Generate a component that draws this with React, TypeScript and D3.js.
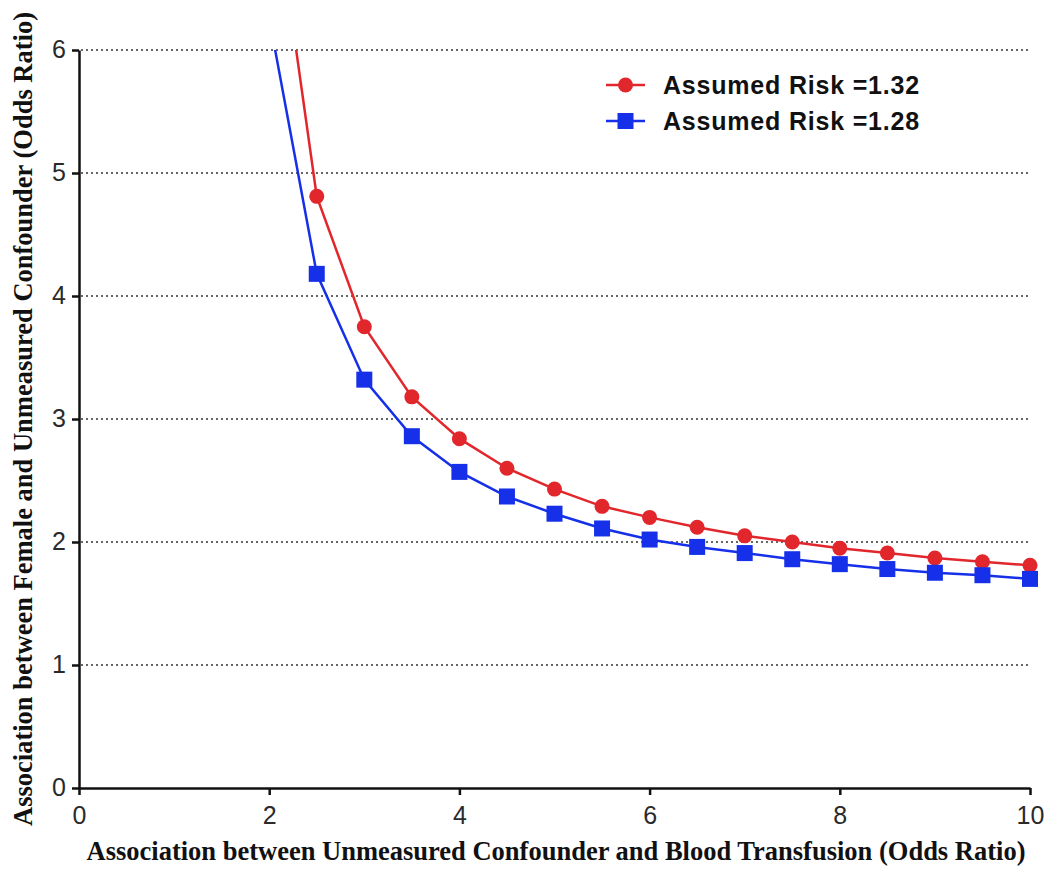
import React, { useEffect, useRef } from "react";
import * as d3 from "d3";

// x values (odds ratio, confounder vs transfusion)
const xValues = [2, 2.5, 3, 3.5, 4, 4.5, 5, 5.5, 6, 6.5, 7, 7.5, 8, 8.5, 9, 9.5, 10];

// Assumed Risk = 1.32 (first value lies above the plot, it is clipped)
const risk132 = [7.56, 4.81, 3.75, 3.18, 2.84, 2.6, 2.43, 2.29, 2.2, 2.12, 2.05, 2.0, 1.95, 1.91, 1.87, 1.84, 1.81];
// Assumed Risk = 1.28
const risk128 = [6.26, 4.18, 3.32, 2.86, 2.57, 2.37, 2.23, 2.11, 2.02, 1.96, 1.91, 1.86, 1.82, 1.78, 1.75, 1.73, 1.7];

const xTicks = [0, 2, 4, 6, 8, 10];
const yTicks = [0, 1, 2, 3, 4, 5, 6];
const gridTicks = [1, 2, 3, 4, 5, 6];

const seriesNames = ["Assumed Risk =1.32", "Assumed Risk =1.28"];

const RED = "#e1262c";
const BLUE = "#1530e8";

const App = () => {
  const svgRef = useRef(null);

  useEffect(() => {
    const root = d3.select(svgRef.current);
    root.selectAll("*").remove();

    const W = 1048;
    const H = 869;
    const margin = { top: 50, right: 18, bottom: 81, left: 79 };
    const width = W - margin.left - margin.right;
    const height = H - margin.top - margin.bottom;

    root.attr("width", W).attr("height", H);

    const svg = root
      .append("g")
      .attr("transform", `translate(${margin.left},${margin.top})`);

    const xScale = d3.scaleLinear().domain([0, 10]).range([0, 951]);
    const yScale = d3.scaleLinear().domain([0, 6]).range([height, 0]);

    // clip for the data
    root
      .append("defs")
      .append("clipPath")
      .attr("id", "plotClip")
      .append("rect")
      .attr("x", -20)
      .attr("y", 0)
      .attr("width", width + 40)
      .attr("height", height + 20);

    // dotted grid lines
    svg
      .append("g")
      .selectAll("line")
      .data(gridTicks)
      .join("line")
      .attr("x1", 2)
      .attr("x2", (d) => (d === 6 ? width : xScale(10)))
      .attr("y1", (d) => yScale(d))
      .attr("y2", (d) => yScale(d))
      .attr("stroke", "#666")
      .attr("stroke-width", 2)
      .attr("stroke-dasharray", "2,3");

    // Y axis
    const yAxis = svg
      .append("g")
      .call(d3.axisLeft(yScale).tickValues(yTicks).tickSize(7).tickSizeOuter(0).tickFormat(d3.format("d")));
    yAxis.select(".domain").attr("stroke", "#111").attr("stroke-width", 2.5);
    yAxis.selectAll(".tick line").attr("stroke", "#111").attr("stroke-width", 2.5);
    yAxis
      .selectAll(".tick text")
      .attr("font-family", "Liberation Sans, Arial, sans-serif")
      .attr("font-size", 25)
      .attr("fill", "#2a2a2a")
      .attr("x", -13)
      .attr("dy", "0.3em");

    // X axis
    const xAxis = svg
      .append("g")
      .attr("transform", `translate(0,${height})`)
      .call(d3.axisBottom(xScale).tickValues(xTicks).tickSize(7).tickSizeOuter(0).tickFormat(d3.format("d")));
    xAxis.select(".domain").attr("stroke", "#111").attr("stroke-width", 2.5);
    xAxis.selectAll(".tick line").attr("stroke", "#111").attr("stroke-width", 2.5);
    xAxis
      .selectAll(".tick text")
      .attr("font-family", "Liberation Sans, Arial, sans-serif")
      .attr("font-size", 25)
      .attr("fill", "#2a2a2a")
      .attr("y", 18);

    // axis titles
    svg
      .append("text")
      .attr("x", 477)
      .attr("y", height + 72)
      .attr("text-anchor", "middle")
      .attr("font-family", "Liberation Serif, Times New Roman, serif")
      .attr("font-weight", "bold")
      .attr("font-size", 26.5)
      .attr("fill", "#111")
      .text("Association between Unmeasured Confounder and Blood Transfusion (Odds Ratio)");

    svg
      .append("text")
      .attr("transform", `translate(${-47.5},${height / 2}) rotate(-90)`)
      .attr("text-anchor", "middle")
      .attr("font-family", "Liberation Serif, Times New Roman, serif")
      .attr("font-weight", "bold")
      .attr("font-size", 26.5)
      .attr("fill", "#111")
      .text("Association between Female and Unmeasured Confounder (Odds Ratio)");

    const line = d3
      .line()
      .x((d) => xScale(d[0]))
      .y((d) => yScale(d[1]));

    const series = [
      { name: seriesNames[0], color: RED, values: risk132, shape: "circle" },
      { name: seriesNames[1], color: BLUE, values: risk128, shape: "square" },
    ];

    const plot = svg.append("g").attr("clip-path", "url(#plotClip)");

    series.forEach((s) => {
      const pts = xValues.map((x, i) => [x, s.values[i]]);
      plot
        .append("path")
        .datum(pts)
        .attr("fill", "none")
        .attr("stroke", s.color)
        .attr("stroke-width", 2.5)
        .attr("d", line);

      const visible = pts.filter((d) => d[1] <= 6);
      if (s.shape === "circle") {
        plot
          .append("g")
          .selectAll("circle")
          .data(visible)
          .join("circle")
          .attr("cx", (d) => xScale(d[0]))
          .attr("cy", (d) => yScale(d[1]))
          .attr("r", 7.5)
          .attr("fill", s.color);
      } else {
        plot
          .append("g")
          .selectAll("rect")
          .data(visible)
          .join("rect")
          .attr("x", (d) => xScale(d[0]) - 8)
          .attr("y", (d) => yScale(d[1]) - 8)
          .attr("width", 16)
          .attr("height", 16)
          .attr("fill", s.color);
      }
    });

    // legend
    const legend = svg.append("g").attr("transform", `translate(527, 35)`);
    series.forEach((s, i) => {
      const g = legend.append("g").attr("transform", `translate(0, ${i * 36})`);
      g.append("line")
        .attr("x1", 0)
        .attr("x2", 39)
        .attr("y1", 0)
        .attr("y2", 0)
        .attr("stroke", s.color)
        .attr("stroke-width", 2.5);
      if (s.shape === "circle") {
        g.append("circle").attr("cx", 19.5).attr("cy", 0).attr("r", 7.5).attr("fill", s.color);
      } else {
        g.append("rect").attr("x", 11.5).attr("y", -8).attr("width", 16).attr("height", 16).attr("fill", s.color);
      }
      g.append("text")
        .attr("x", 57)
        .attr("y", 0)
        .attr("dy", "0.36em")
        .attr("font-family", "Liberation Sans, Arial, sans-serif")
        .attr("font-weight", "bold")
        .attr("font-size", 25)
        .attr("letter-spacing", 0.8)
        .attr("fill", "#111")
        .text(s.name);
    });
  }, []);

  return (
    <div style={{ position: "absolute", left: 0, top: 0 }}>
      <svg ref={svgRef} style={{ display: "block" }}></svg>
    </div>
  );
};

export default App;
